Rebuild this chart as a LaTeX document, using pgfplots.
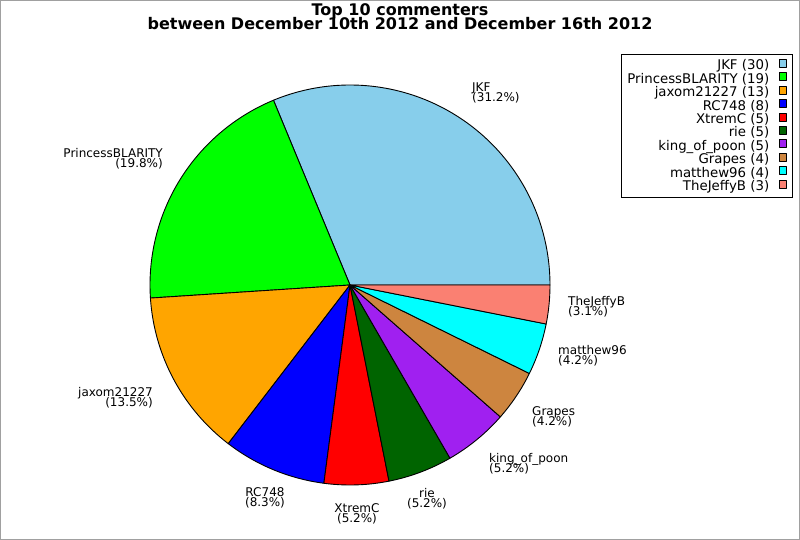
\documentclass[border=0pt]{standalone}
\usepackage{fontspec}
\setmainfont{DejaVu Sans}
\usepackage{pgfplots}
\pgfplotsset{compat=1.18}

\definecolor{cJKF}{RGB}{135,206,235}
\definecolor{cPB}{RGB}{0,255,0}
\definecolor{cJax}{RGB}{255,165,0}
\definecolor{cRC}{RGB}{0,0,255}
\definecolor{cXt}{RGB}{255,0,0}
\definecolor{cRie}{RGB}{0,100,0}
\definecolor{cKing}{RGB}{160,32,240}
\definecolor{cGrapes}{RGB}{205,133,63}
\definecolor{cMat}{RGB}{0,255,255}
\definecolor{cJeffy}{RGB}{250,128,114}
\definecolor{frame}{RGB}{160,160,160}

% comment counts (total 96)
\def\total{96}
\def\cum{0}
\newcommand\slice[3]{%
  \pgfmathsetmacro\sa{\cum/\total*360}%
  \pgfmathsetmacro\cumnew{\cum+#1}%
  \pgfmathsetmacro\sb{\cumnew/\total*360}%
  \edef\doplot{\noexpand\addplot[fill=#2, draw=black, line width=0.9pt, line join=round,
     domain=\sa:\sb, samples=90]
     ({350+200*cos(x)},{255+200*sin(x)}) -- (axis cs:350,255) -- cycle;}%
  \doplot
  \addlegendentry{#3}%
  \global\let\cum\cumnew
}

\begin{document}
\begin{tikzpicture}
\begin{axis}[
  hide axis, scale only axis,
  width=800pt, height=540pt,
  xmin=0, xmax=800, ymin=0, ymax=540,
  clip=false,
  legend cell align=right,
  legend plot pos=right,
  legend image code/.code={\draw[#1, line width=0.8pt] (0pt,-0.5pt) rectangle (6.5pt,7.5pt);},
  legend style={at={(axis cs:793,486)}, anchor=north east, draw=black, line width=0.9pt,
    font=\fontsize{13.33}{11}\selectfont,
    inner xsep=6pt, inner ysep=4.5pt, column sep=10pt,
    nodes={inner sep=0pt, text height=8.5pt, text depth=2.5pt}},
]
\path (axis cs:0,0) rectangle (axis cs:800,540);
\slice{30}{cJKF}{JKF (30)}
\slice{19}{cPB}{PrincessBLARITY (19)}
\slice{13}{cJax}{jaxom21227 (13)}
\slice{8}{cRC}{RC748 (8)}
\slice{5}{cXt}{XtremC (5)}
\slice{5}{cRie}{rie (5)}
\slice{5}{cKing}{king\_of\_poon (5)}
\slice{4}{cGrapes}{Grapes (4)}
\slice{4}{cMat}{matthew96 (4)}
\slice{3}{cJeffy}{TheJeffyB (3)}

% title
\node[anchor=base, font=\fontsize{16}{16}\selectfont\bfseries] at (axis cs:400,524.3) {Top 10 commenters};
\node[anchor=base, font=\fontsize{16}{16}\selectfont\bfseries] at (axis cs:400,510) {between December 10th 2012 and December 16th 2012};

% slice labels
\begin{scope}[every node/.style={font=\fontsize{12}{10}\selectfont, inner sep=0pt}]
\node[anchor=base west] at (axis cs:472,448.5) {JKF};
\node[anchor=base west] at (axis cs:472,438.5) {(31.2\%)};
\node[anchor=base east] at (axis cs:163,382.5) {PrincessBLARITY};
\node[anchor=base east] at (axis cs:163,372.5) {(19.8\%)};
\node[anchor=base east] at (axis cs:153,143.5) {jaxom21227};
\node[anchor=base east] at (axis cs:153,133.5) {(13.5\%)};
\node[anchor=base] at (axis cs:265,43.5) {RC748};
\node[anchor=base] at (axis cs:265,33.5) {(8.3\%)};
\node[anchor=base] at (axis cs:357,27.5) {XtremC};
\node[anchor=base] at (axis cs:357,17.5) {(5.2\%)};
\node[anchor=base] at (axis cs:427,42.5) {rie};
\node[anchor=base] at (axis cs:427,32.5) {(5.2\%)};
\node[anchor=base west] at (axis cs:489,77.5) {king\_of\_poon};
\node[anchor=base west] at (axis cs:489,67.5) {(5.2\%)};
\node[anchor=base west] at (axis cs:532,124.5) {Grapes};
\node[anchor=base west] at (axis cs:532,114.5) {(4.2\%)};
\node[anchor=base west] at (axis cs:558,185.5) {matthew96};
\node[anchor=base west] at (axis cs:558,175.5) {(4.2\%)};
\node[anchor=base west] at (axis cs:568,234.5) {TheJeffyB};
\node[anchor=base west] at (axis cs:568,224.5) {(3.1\%)};
\end{scope}

\draw[frame, line width=1pt] (axis cs:0.5,0.5) rectangle (axis cs:799.5,539.5);
\end{axis}
\end{tikzpicture}
\end{document}
